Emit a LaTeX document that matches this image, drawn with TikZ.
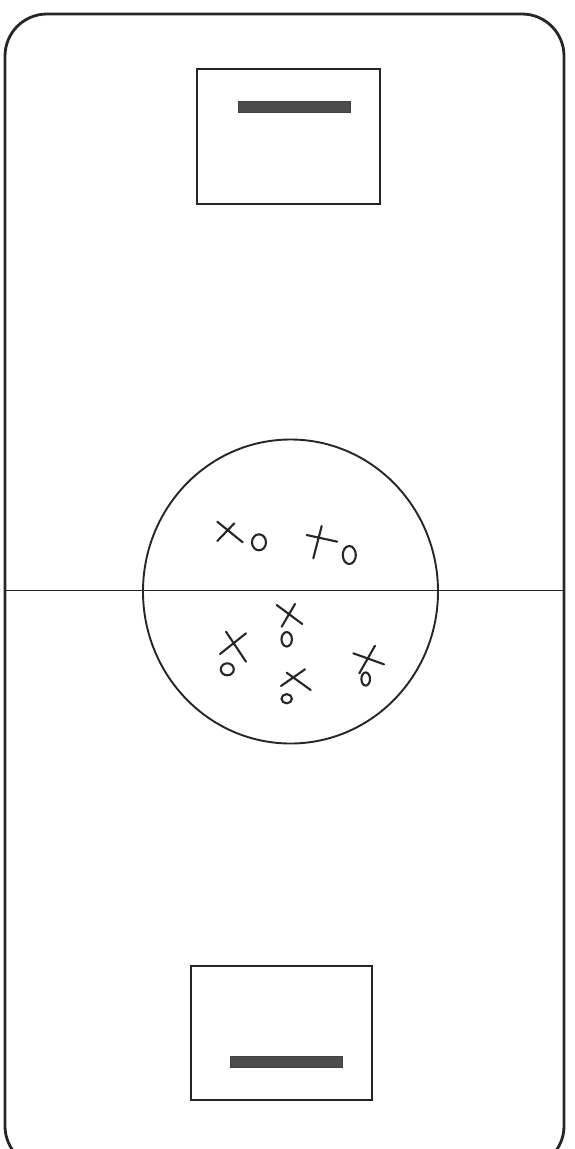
\documentclass[tikz,border=0pt]{standalone}
\begin{document}
\begin{tikzpicture}[x=1pt,y=-1pt,
  ink/.style={draw=black!85,line width=1.9pt},
  thick ink/.style={draw=black!85,line width=2.8pt},
  bar/.style={fill=black!70,draw=black!75,line width=0.5pt},
  pen/.style={draw=black!85,line width=2.1pt,line cap=round}]
\useasboundingbox (0,0) rectangle (574,1149);
\fill[white] (0,0) rectangle (574,1149);
% field
\draw[thick ink,rounded corners=42pt] (5,14) rectangle (564,1168);
% midline
\draw[ink] (5,590.5) -- (564,590.5);
% centre circle
\draw[ink] (290.5,591.5) ellipse [x radius=147.5, y radius=152];
% goal areas
\draw[ink,line width=2.3pt] (197,69) rectangle (380,204);
\draw[bar] (238,101) rectangle (350,112);
\draw[ink,line width=2.3pt] (191,966) rectangle (372,1100);
\draw[bar] (230,1056) rectangle (342,1067);
% players
\draw[pen] (217.3,521.7) -- (242.7,542.3) (217.3,541) -- (234.3,523.3);
\draw[pen] (259,542.3) ellipse [x radius=7, y radius=8];
\draw[pen] (306.7,535) -- (337.3,541.7) (321.7,526) -- (313.3,558.3);
\draw[pen] (349.3,555) ellipse [x radius=6.5, y radius=9];
\draw[pen] (276.7,605) -- (302.3,624) (295,604) -- (281.7,626.7);
\draw[pen] (286.7,639.3) ellipse [x radius=5.2, y radius=7.2];
\draw[pen] (220,654) -- (246,633.3) (226,631.7) -- (246,661.7);
\draw[pen] (227.3,669.3) ellipse [x radius=6.5, y radius=6];
\draw[pen] (281,686) -- (305,669.3) (286.7,672.7) -- (310.7,690);
\draw[pen] (286.7,698.7) ellipse [x radius=5.2, y radius=4.6];
\draw[pen] (353.3,653.3) -- (384,664.3) (375,645.7) -- (359.3,673.3);
\draw[pen] (365.7,679) ellipse [x radius=4.3, y radius=6.6];
\end{tikzpicture}
\end{document}
